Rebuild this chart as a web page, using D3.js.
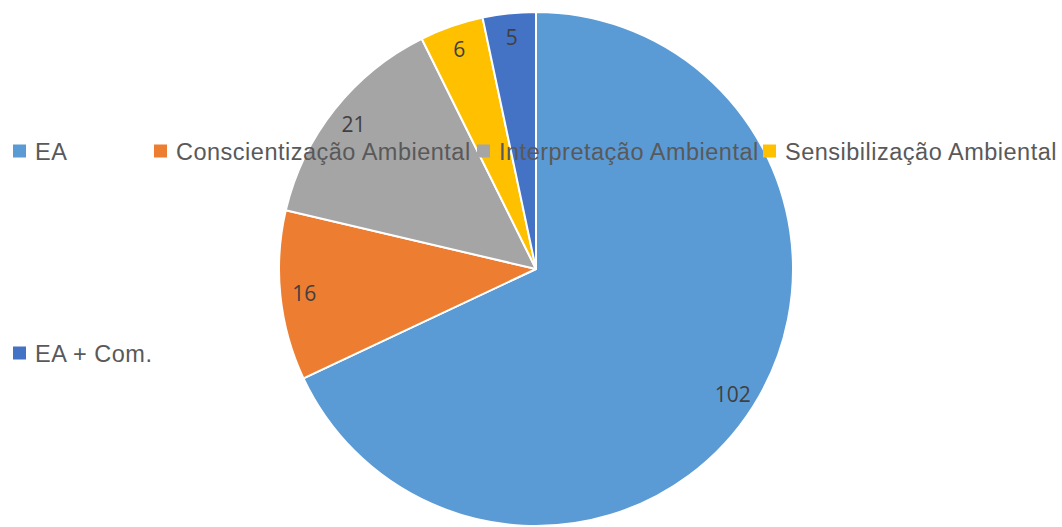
<!DOCTYPE html>
<html>
<head>
<meta charset="utf-8">
<script src="https://cdn.jsdelivr.net/npm/d3@7"></script>
<style>
  html, body { margin: 0; padding: 0; background: #ffffff; }
  svg { display: block; }
</style>
</head>
<body>
<svg id="chart" width="1062" height="527"></svg>
<script>
// Categories and counts of the pie
const categories = ["EA", "Conscientização Ambiental", "Interpretação Ambiental", "Sensibilização Ambiental", "EA + Com."];
const values = [102, 16, 21, 6, 5];
const colors = ["#5B9BD5", "#ED7D31", "#A5A5A5", "#FFC000", "#4472C4"];

const width = 1062, height = 527;
const cx = 536, cy = 269, radius = 257, labelRadius = 233;

const svg = d3.select("#chart");

const data = categories.map((c, i) => ({ name: c, value: values[i], color: colors[i] }));

const pie = d3.pie().sort(null).value(d => d.value);
const arc = d3.arc().innerRadius(0).outerRadius(radius);
const labelArc = d3.arc().innerRadius(labelRadius).outerRadius(labelRadius);

const g = svg.append("g").attr("transform", `translate(${cx},${cy})`);
const arcs = pie(data);

g.selectAll("path.slice")
  .data(arcs)
  .join("path")
  .attr("class", "slice")
  .attr("d", arc)
  .attr("fill", d => d.data.color)
  .attr("stroke", "#ffffff")
  .attr("stroke-width", 2)
  .attr("stroke-linejoin", "round");

// Value labels inside the slices
g.selectAll("text.value")
  .data(arcs)
  .join("text")
  .attr("class", "value")
  .attr("transform", d => `translate(${labelArc.centroid(d)})`)
  .attr("text-anchor", "middle")
  .attr("dominant-baseline", "central")
  .attr("font-family", "'Open Sans', 'Noto Sans', sans-serif")
  .attr("font-size", 21)
  .attr("fill", "#404040")
  .text(d => d.data.value);

// Legend, drawn over the pie: four items on the first row, one on the second
const legendSlots = [
  { x: 13, y: 151 }, { x: 154, y: 151 }, { x: 477, y: 151 }, { x: 763, y: 151 },
  { x: 13, y: 353 }
];
const legend = svg.append("g").attr("class", "legend");
const items = legend.selectAll("g.item")
  .data(data)
  .join("g")
  .attr("class", "item")
  .attr("transform", (d, i) => `translate(${legendSlots[i].x},${legendSlots[i].y})`);

items.append("rect")
  .attr("x", 0)
  .attr("y", -6.5)
  .attr("width", 13)
  .attr("height", 13)
  .attr("fill", d => d.color);

items.append("text")
  .attr("x", 22)
  .attr("y", 9)
  .attr("font-family", "'Liberation Sans', Arial, sans-serif")
  .attr("font-size", 23.5)
  .attr("letter-spacing", 0.5)
  .attr("fill", "#595959")
  .text(d => d.name);
</script>
</body>
</html>
